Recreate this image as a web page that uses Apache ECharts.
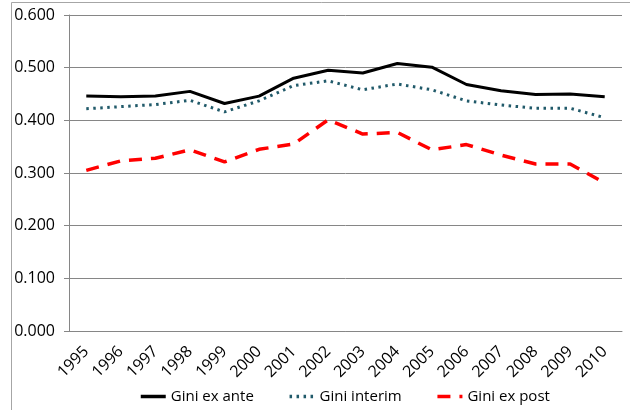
<!DOCTYPE html>
<html>
<head>
<meta charset="utf-8">
<script src="https://cdn.jsdelivr.net/npm/echarts@6/dist/echarts.min.js"></script>
<style>
  html, body { margin: 0; padding: 0; background: #fff; }
  #chart { width: 630px; height: 410px; }
</style>
</head>
<body>
<div id="chart"></div>
<script>
const years = ['1995', '1996', '1997', '1998', '1999', '2000', '2001', '2002',
  '2003', '2004', '2005', '2006', '2007', '2008', '2009', '2010'];
const giniExAnte = [0.446, 0.445, 0.446, 0.455, 0.432, 0.446, 0.480, 0.495,
  0.490, 0.508, 0.501, 0.468, 0.456, 0.449, 0.450, 0.445];
const giniInterim = [0.422, 0.426, 0.430, 0.438, 0.416, 0.437, 0.466, 0.475,
  0.458, 0.469, 0.458, 0.437, 0.429, 0.423, 0.423, 0.405];
const giniExPost = [0.305, 0.323, 0.328, 0.344, 0.321, 0.345, 0.355, 0.401,
  0.374, 0.377, 0.344, 0.354, 0.334, 0.317, 0.317, 0.281];

const font = 'Open Sans';
const chart = echarts.init(document.getElementById('chart'));

chart.setOption({
  animation: false,
  textStyle: { fontFamily: font },
  graphic: [{
    type: 'rect',
    shape: { x: 11.5, y: 2.5, width: 640, height: 420 },
    style: { fill: 'none', stroke: '#a6a6a6', lineWidth: 1 },
    silent: true
  }],
  grid: { left: 69, right: 8, top: 15, bottom: 79 },
  legend: {
    bottom: 1,
    left: 134,
    itemWidth: 25,
    itemHeight: 12,
    itemGap: 34,
    itemStyle: { opacity: 0 },
    lineStyle: { width: 3.5 },
    textStyle: { fontFamily: font, fontSize: 15, color: '#000' },
    data: ['Gini ex ante', 'Gini interim', 'Gini ex post']
  },
  xAxis: {
    type: 'category',
    data: years,
    boundaryGap: true,
    axisLine: { lineStyle: { color: '#868686', width: 1 } },
    axisTick: { alignWithLabel: false, length: 5, lineStyle: { color: '#868686' } },
    axisLabel: { rotate: 45, margin: 18, fontSize: 16, color: '#000', fontFamily: font }
  },
  yAxis: {
    type: 'value',
    min: 0,
    max: 0.6,
    interval: 0.1,
    axisLine: { show: true, lineStyle: { color: '#868686', width: 1 } },
    axisTick: { show: true, length: 5, lineStyle: { color: '#868686' } },
    axisLabel: {
      margin: 14, fontSize: 16, color: '#000', fontFamily: font,
      formatter: v => v.toFixed(3)
    },
    splitLine: { lineStyle: { color: '#868686', width: 1 } }
  },
  series: [
    {
      name: 'Gini ex ante', type: 'line', data: giniExAnte,
      symbol: 'none',
      lineStyle: { color: '#000000', width: 3 },
      itemStyle: { color: '#000000' }
    },
    {
      name: 'Gini interim', type: 'line', data: giniInterim,
      symbol: 'none',
      lineStyle: { color: '#215a6a', width: 3, type: [2.5, 4.5], cap: 'butt' },
      itemStyle: { color: '#215a6a' }
    },
    {
      name: 'Gini ex post', type: 'line', data: giniExPost,
      symbol: 'none',
      lineStyle: { color: '#ff0000', width: 3.5, type: [13, 9] },
      itemStyle: { color: '#ff0000' }
    }
  ]
});
</script>
</body>
</html>
